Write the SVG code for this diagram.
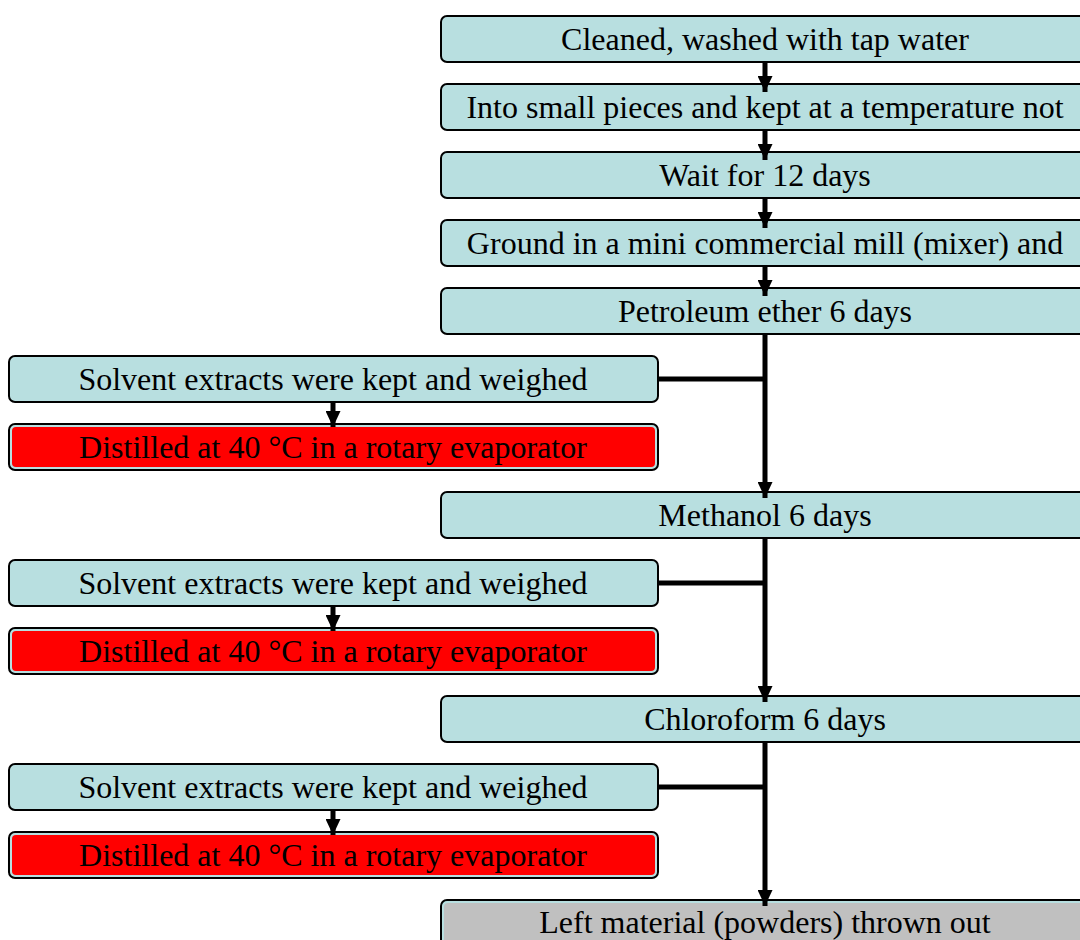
<svg xmlns="http://www.w3.org/2000/svg" width="1080" height="940" viewBox="0 0 1080 940">
  <style>
    .box { fill: #b8dfe0; stroke: #000; stroke-width: 2; }
    .red { fill: #ff0000; }
    .grey { fill: #c0c0c0; }
    .lbl { font-family: "Liberation Serif", "Times New Roman", serif; font-size: 32px; fill: #000; text-anchor: middle; }
    .wire { stroke: #000; stroke-width: 5; fill: none; }
  </style>
  <defs>
    <marker id="arr" viewBox="0 0 16 15" refX="16" refY="7.5" markerWidth="16" markerHeight="15" markerUnits="userSpaceOnUse" orient="auto">
      <path d="M0,0 L16,7.5 L0,15 Z" fill="#000"/>
    </marker>
  </defs>

  <rect width="1080" height="940" fill="#fff"/>

  <!-- main column -->
  <g id="n1"><rect class="box" x="441" y="16" width="648" height="46" rx="6"/><text class="lbl" x="765" y="50">Cleaned, washed with tap water</text></g>
  <g id="n2"><rect class="box" x="441" y="84" width="648" height="46" rx="6"/><text class="lbl" x="765" y="118">Into small pieces and kept at a temperature not</text></g>
  <g id="n3"><rect class="box" x="441" y="152" width="648" height="46" rx="6"/><text class="lbl" x="765" y="186">Wait for 12 days</text></g>
  <g id="n4"><rect class="box" x="441" y="220" width="648" height="46" rx="6"/><text class="lbl" x="765" y="254">Ground in a mini commercial mill (mixer) and</text></g>
  <g id="n5"><rect class="box" x="441" y="288" width="648" height="46" rx="6"/><text class="lbl" x="765" y="322">Petroleum ether 6 days</text></g>
  <g id="n6"><rect class="box" x="441" y="492" width="648" height="46" rx="6"/><text class="lbl" x="765" y="526">Methanol 6 days</text></g>
  <g id="n7"><rect class="box" x="441" y="696" width="648" height="46" rx="6"/><text class="lbl" x="765" y="730">Chloroform 6 days</text></g>
  <g id="n8"><rect class="box" x="441" y="900" width="648" height="50" rx="6"/><rect class="grey" x="444" y="903" width="642" height="50" rx="4"/><text class="lbl" x="765" y="933">Left material (powders) thrown out</text></g>

  <!-- side branches -->
  <g id="s1"><rect class="box" x="9" y="356" width="649" height="46" rx="6"/><text class="lbl" x="333" y="390">Solvent extracts were kept and weighed</text></g>
  <g id="d1"><rect class="box" x="9" y="424" width="649" height="46" rx="6"/><rect class="red" x="12" y="427" width="643" height="40" rx="4"/><text class="lbl" x="333" y="458">Distilled at 40 °C in a rotary evaporator</text></g>
  <g id="s2"><rect class="box" x="9" y="560" width="649" height="46" rx="6"/><text class="lbl" x="333" y="594">Solvent extracts were kept and weighed</text></g>
  <g id="d2"><rect class="box" x="9" y="628" width="649" height="46" rx="6"/><rect class="red" x="12" y="631" width="643" height="40" rx="4"/><text class="lbl" x="333" y="662">Distilled at 40 °C in a rotary evaporator</text></g>
  <g id="s3"><rect class="box" x="9" y="764" width="649" height="46" rx="6"/><text class="lbl" x="333" y="798">Solvent extracts were kept and weighed</text></g>
  <g id="d3"><rect class="box" x="9" y="832" width="649" height="46" rx="6"/><rect class="red" x="12" y="835" width="643" height="40" rx="4"/><text class="lbl" x="333" y="866">Distilled at 40 °C in a rotary evaporator</text></g>

  <!-- connectors -->
  <g id="connectors">
    <line class="wire" x1="765" y1="62" x2="765" y2="92" marker-end="url(#arr)"/>
    <line class="wire" x1="765" y1="130" x2="765" y2="160" marker-end="url(#arr)"/>
    <line class="wire" x1="765" y1="198" x2="765" y2="228" marker-end="url(#arr)"/>
    <line class="wire" x1="765" y1="266" x2="765" y2="296" marker-end="url(#arr)"/>
    <line class="wire" x1="765" y1="334" x2="765" y2="498" marker-end="url(#arr)"/>
    <line class="wire" x1="765" y1="538" x2="765" y2="702" marker-end="url(#arr)"/>
    <line class="wire" x1="765" y1="742" x2="765" y2="906" marker-end="url(#arr)"/>
    <line class="wire" x1="658" y1="379" x2="767" y2="379"/>
    <line class="wire" x1="658" y1="583" x2="767" y2="583"/>
    <line class="wire" x1="658" y1="787" x2="767" y2="787"/>
    <line class="wire" x1="333" y1="402" x2="333" y2="427" marker-end="url(#arr)"/>
    <line class="wire" x1="333" y1="606" x2="333" y2="631" marker-end="url(#arr)"/>
    <line class="wire" x1="333" y1="810" x2="333" y2="835" marker-end="url(#arr)"/>
  </g>
</svg>
